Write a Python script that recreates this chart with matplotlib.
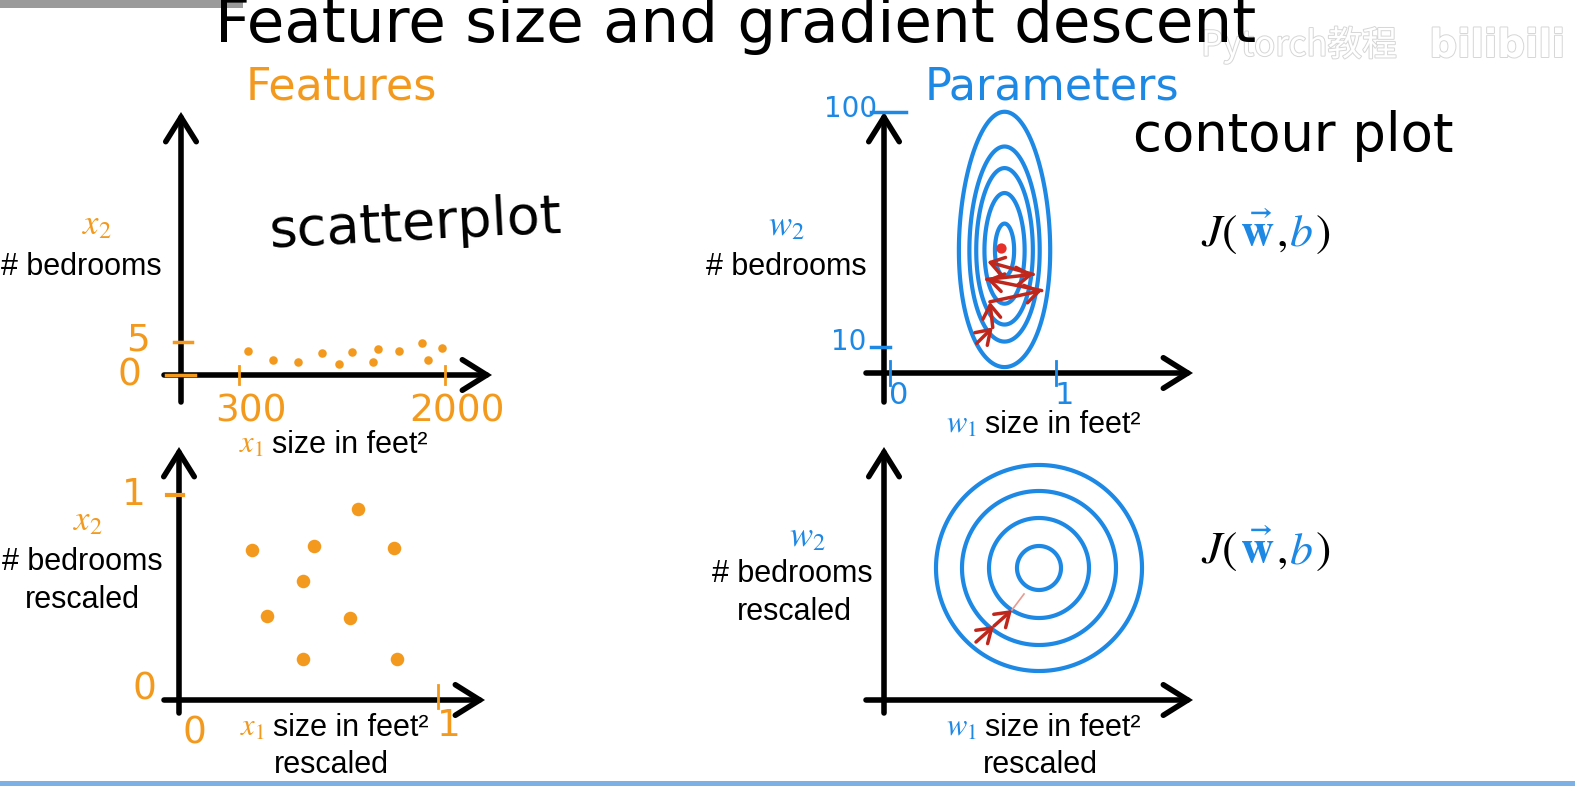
import numpy as np
import matplotlib.pyplot as plt
import matplotlib.patheffects as pe
from matplotlib.patches import Rectangle, FancyArrowPatch
from matplotlib import transforms

plt.rcParams['mathtext.fontset'] = 'stix'

W, H = 1575, 786
ORANGE = '#F39A1E'
BLUE = '#1E88E5'
RED = '#C0271C'

# ---- data ----
# top left: raw features (size in feet^2, # bedrooms)
tl_size = [377, 584, 783, 986, 1126, 1234, 1408, 1450, 1623, 1813, 1858, 1973]
tl_beds = [3.6, 2.3, 2.0, 3.3, 1.7, 3.5, 2.0, 3.9, 3.6, 4.8, 2.3, 4.1]
tl_xticks = [300, 2000]
tl_yticks = [0, 5]

# bottom left: rescaled features
bl_size = [0.28, 0.52, 0.69, 0.83, 0.48, 0.34, 0.66, 0.48, 0.84]
bl_beds = [0.73, 0.75, 0.93, 0.74, 0.58, 0.41, 0.40, 0.20, 0.20]

# top right: elongated contours of J(w, b) + zig-zag descent
tr_center = (0.69, 47.0)
tr_axes = (0.275, 48.0)
tr_skew = -0.165
tr_radii = [0.21, 0.44, 0.62, 0.77, 1.0]
tr_path_w1 = [0.522, 0.619, 0.602, 0.914, 0.583, 0.863, 0.586]
tr_path_w2 = [11.4, 17.5, 27.3, 31.6, 35.9, 37.8, 42.7]
tr_min = (0.669, 48.0)
tr_xticks = [0, 1]
tr_yticks = [10, 100]

# bottom right: circular contours + direct descent
br_center = (0.775, 0.66)
br_radii = [0.11, 0.25, 0.385, 0.515]
br_path_w1 = [0.46, 0.55, 0.64]
br_path_w2 = [0.29, 0.37, 0.45]

fig = plt.figure(figsize=(W / 100, H / 100), dpi=100)
fig.patch.set_facecolor('white')

# pixel space layer for the slide decorations
deco = fig.add_axes([0, 0, 1, 1])
deco.set_xlim(0, W)
deco.set_ylim(H, 0)
deco.axis('off')


def panel(x_px, xv, y_px, yv):
    # axes over the whole figure, limits chosen so values land on the drawn ticks
    ax = fig.add_axes([0, 0, 1, 1])
    ax.axis('off')
    bx = (x_px[1] - x_px[0]) / (xv[1] - xv[0])
    by = (y_px[1] - y_px[0]) / (yv[1] - yv[0])
    ax.set_xlim(xv[0] - x_px[0] / bx, xv[0] + (W - x_px[0]) / bx)
    ax.set_ylim(yv[0] + (H - y_px[0]) / by, yv[0] - y_px[0] / by)
    return ax


def axis_arrow(x0, y0, x1, y1):
    deco.add_patch(FancyArrowPatch((x0, y0), (x1, y1),
                                   arrowstyle='->,head_length=0.8,head_width=0.5',
                                   mutation_scale=22, lw=4, color='black',
                                   shrinkA=0, shrinkB=0, capstyle='round',
                                   joinstyle='miter'))


def row(pieces, x, y, size, ha='left', gap=6):
    r = fig.canvas.get_renderer()
    arts = []
    cx = x
    for s, c in pieces:
        t = deco.text(cx, y, s, color=c, fontsize=size, ha='left', va='baseline',
                      family='Liberation Sans')
        cx += t.get_window_extent(r).width + gap
        arts.append(t)
    if ha == 'center':
        shift = (cx - gap - x) / 2
        for t in arts:
            t.set_x(t.get_position()[0] - shift)
    return arts


# slide chrome
deco.add_patch(Rectangle((0, 0), 243, 8, color='#9a9a9a', lw=0))
deco.add_patch(Rectangle((0, 781), W, 5, color='#7db1e6', lw=0))
wm = [pe.Stroke(linewidth=1.4, foreground='#d6d6d6'), pe.Normal()]
deco.text(1299, 45, 'Pytorch教程', fontsize=25, color='white', ha='center', va='center',
          family=['Noto Sans CJK SC', 'DejaVu Sans'], zorder=0, path_effects=wm)
deco.text(1497, 46, 'bilibili', fontsize=28, color='white', ha='center', va='center',
          fontweight='bold', family='DejaVu Sans', zorder=0, path_effects=wm)

# titles
deco.text(736, 42, 'Feature size and gradient descent', fontsize=44, ha='center',
          va='baseline', family='DejaVu Sans', color='black')
deco.text(341, 100, 'Features', fontsize=32, ha='center', va='baseline',
          family='DejaVu Sans', color=ORANGE)
deco.text(1052, 100, 'Parameters', fontsize=32, ha='center', va='baseline',
          family='DejaVu Sans', color=BLUE)
deco.text(415, 224, 'scatterplot', fontsize=39, ha='center', va='center',
          family='DejaVu Sans', rotation=3, color='black')
deco.text(1293, 136, 'contour plot', fontsize=38, ha='center', va='center',
          family='DejaVu Sans', color='black')
for yb in (246, 563):
    row([(r'$J($', 'black'), (r'$\vec{\mathbf{w}}$', BLUE), (r'$,$', 'black'),
         (r'$b$', BLUE), (r'$)$', 'black')], 1201, yb, 33, gap=2)

# axis arrows
axis_arrow(181, 402, 181, 112)
axis_arrow(164, 375, 492, 375)
axis_arrow(179, 713, 179, 447)
axis_arrow(164, 700, 485, 700)
axis_arrow(884, 402, 884, 112)
axis_arrow(866, 373, 1193, 373)
axis_arrow(884, 713, 884, 447)
axis_arrow(866, 700, 1193, 700)

# axis labels
LS = 22
for x, yb, s, c in [(97, 234, r'$x_2$', ORANGE), (88, 530, r'$x_2$', ORANGE),
                    (786, 235, r'$w_2$', BLUE), (807, 546, r'$w_2$', BLUE)]:
    deco.text(x, yb, s, fontsize=LS + 3, color=c, ha='center', va='baseline')
for x, yb, s in [(81, 275, '# bedrooms'), (82, 570, '# bedrooms'), (82, 608, 'rescaled'),
                 (786, 275, '# bedrooms'), (792, 582, '# bedrooms'), (794, 620, 'rescaled'),
                 (331, 773, 'rescaled'), (1040, 773, 'rescaled')]:
    deco.text(x, yb, s, fontsize=LS, color='black', ha='center', va='baseline',
              family='Liberation Sans')
row([(r'$x_1$', ORANGE), ('size in feet²', 'black')], 333, 453, LS, ha='center', gap=8)
row([(r'$x_1$', ORANGE), ('size in feet²', 'black')], 334, 736, LS, ha='center', gap=8)
row([(r'$w_1$', BLUE), ('size in feet²', 'black')], 1043, 433, LS, ha='center', gap=8)
row([(r'$w_1$', BLUE), ('size in feet²', 'black')], 1043, 736, LS, ha='center', gap=8)

hand = dict(family='DejaVu Sans', fontsize=27, ha='center', va='center')
red_arrow = dict(arrowstyle='->,head_length=0.6,head_width=0.4', color=RED, lw=2.5,
                 shrinkA=0, shrinkB=0, mutation_scale=16)

# ---- top left: raw features ----
ax = panel((239, 445), (300, 2000), (375, 341.5), (0, 5))
ty = transforms.blended_transform_factory(deco.transData, ax.transData)
tx = transforms.blended_transform_factory(ax.transData, deco.transData)
ax.scatter(tl_size, tl_beds, s=38, color=ORANGE, lw=0)
for v in tl_xticks:
    ax.plot([v, v], [366, 384], transform=tx, color=ORANGE, lw=2)
    ax.text(v + 100, 411, str(v), transform=tx, color=ORANGE, **hand)
ax.plot([166, 195], [0, 0], transform=ty, color=ORANGE, lw=2.5)
ax.plot([174, 192], [5, 5], transform=ty, color=ORANGE, lw=2.5)
ax.text(129, 0, '0', transform=ty, color=ORANGE, **hand)
ax.text(138, 5.2, '5', transform=ty, color=ORANGE, **hand)

# ---- bottom left: rescaled features ----
ax = panel((179, 438), (0, 1), (700, 495), (0, 1))
ty = transforms.blended_transform_factory(deco.transData, ax.transData)
tx = transforms.blended_transform_factory(ax.transData, deco.transData)
ax.scatter(bl_size, bl_beds, s=95, color=ORANGE, lw=0)
ax.plot([1, 1], [685, 708], transform=tx, color=ORANGE, lw=2)
ax.plot([167, 183], [1, 1], transform=ty, color=ORANGE, lw=3)
ax.text(0.06, 733, '0', transform=tx, color=ORANGE, **hand)
ax.text(1.04, 726, '1', transform=tx, color=ORANGE, **hand)
ax.text(144, 0.05, '0', transform=ty, color=ORANGE, **hand)
ax.text(134, 1.0, '1', transform=ty, color=ORANGE, **hand)

# ---- top right: elongated contours ----
ax = panel((890, 1056), (0, 1), (347, 112), (10, 100))
ty = transforms.blended_transform_factory(deco.transData, ax.transData)
tx = transforms.blended_transform_factory(ax.transData, deco.transData)
w1 = np.linspace(0.2, 1.2, 500)
w2 = np.linspace(-10, 110, 500)
G1, G2 = np.meshgrid(w1, w2)
U = (G1 - tr_center[0]) / tr_axes[0]
V = (G2 - tr_center[1]) / tr_axes[1]
J = U ** 2 + V ** 2 + tr_skew * V ** 3
ax.contour(G1, G2, J, levels=[r ** 2 for r in tr_radii], colors=BLUE, linewidths=3)
for i in range(len(tr_path_w1) - 1):
    ax.annotate('', xy=(tr_path_w1[i + 1], tr_path_w2[i + 1]),
                xytext=(tr_path_w1[i], tr_path_w2[i]), arrowprops=red_arrow)
ax.scatter([tr_min[0]], [tr_min[1]], s=55, color='#E8302A', lw=0, zorder=5)
for v in tr_xticks:
    ax.plot([v, v], [361, 385], transform=tx, color=BLUE, lw=2)
    ax.text(v + 0.05, 396, str(v), transform=tx, color=BLUE, family='DejaVu Sans',
            fontsize=22, ha='center', va='center')
for v in tr_yticks:
    ax.plot([871, 906 if v == 100 else 890], [v, v], transform=ty, color=BLUE, lw=2.5)
    ax.text(851 if v == 100 else 849, v + (1 if v == 100 else 2), str(v), transform=ty,
            color=BLUE, family='DejaVu Sans', fontsize=20, ha='center', va='center')

# ---- bottom right: circular contours ----
ax = panel((884, 1084), (0, 1), (700, 500), (0, 1))
c1 = np.linspace(0.1, 1.5, 500)
c2 = np.linspace(0.0, 1.4, 500)
G1, G2 = np.meshgrid(c1, c2)
J = (G1 - br_center[0]) ** 2 + (G2 - br_center[1]) ** 2
ax.contour(G1, G2, J, levels=[r ** 2 for r in br_radii], colors=BLUE, linewidths=3)
ax.plot([br_path_w1[-1], 0.70], [br_path_w2[-1], 0.53], color='#e89a90', lw=1.2)
for i in range(len(br_path_w1) - 1):
    ax.annotate('', xy=(br_path_w1[i + 1], br_path_w2[i + 1]),
                xytext=(br_path_w1[i], br_path_w2[i]), arrowprops=red_arrow)

fig.savefig('out.png', dpi=100, facecolor='white')
